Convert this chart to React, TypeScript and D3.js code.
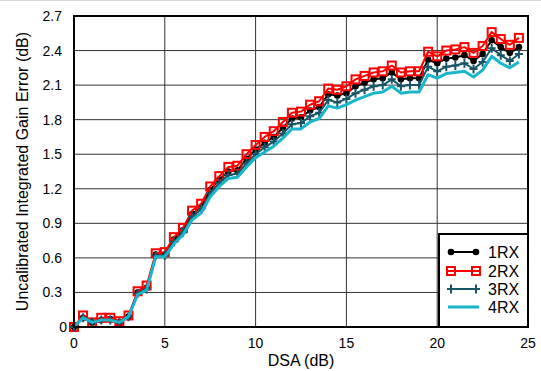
import React from "react";
import * as d3 from "d3";

const dsa: number[] = d3.range(0, 25, 0.5);

const rx1: number[] = [0.00, 0.08, 0.04, 0.06, 0.07, 0.04, 0.09, 0.30, 0.34, 0.63, 0.63, 0.76, 0.84, 0.98, 1.04, 1.19, 1.28, 1.35, 1.36, 1.46, 1.54, 1.60, 1.65, 1.73, 1.81, 1.82, 1.88, 1.91, 2.02, 2.01, 2.03, 2.09, 2.12, 2.15, 2.16, 2.21, 2.15, 2.16, 2.16, 2.32, 2.29, 2.33, 2.34, 2.36, 2.31, 2.37, 2.49, 2.43, 2.38, 2.43];
const rx2: number[] = [0.00, 0.10, 0.04, 0.08, 0.08, 0.05, 0.10, 0.31, 0.36, 0.64, 0.65, 0.78, 0.86, 1.01, 1.07, 1.22, 1.31, 1.39, 1.40, 1.50, 1.58, 1.65, 1.70, 1.78, 1.86, 1.87, 1.93, 1.96, 2.07, 2.06, 2.09, 2.15, 2.18, 2.21, 2.22, 2.27, 2.21, 2.22, 2.22, 2.39, 2.35, 2.40, 2.41, 2.43, 2.38, 2.44, 2.56, 2.50, 2.45, 2.51];
const rx3: number[] = [0.00, 0.08, 0.04, 0.06, 0.06, 0.04, 0.09, 0.29, 0.33, 0.62, 0.62, 0.74, 0.82, 0.96, 1.02, 1.16, 1.25, 1.32, 1.33, 1.42, 1.50, 1.56, 1.61, 1.68, 1.76, 1.77, 1.83, 1.86, 1.97, 1.95, 1.98, 2.03, 2.06, 2.09, 2.10, 2.15, 2.09, 2.10, 2.10, 2.26, 2.22, 2.26, 2.27, 2.29, 2.24, 2.30, 2.42, 2.36, 2.31, 2.37];
const rx4: number[] = [0.00, 0.08, 0.04, 0.06, 0.06, 0.04, 0.09, 0.28, 0.32, 0.61, 0.61, 0.72, 0.80, 0.93, 0.99, 1.13, 1.22, 1.29, 1.30, 1.39, 1.47, 1.52, 1.57, 1.64, 1.72, 1.72, 1.78, 1.81, 1.92, 1.90, 1.93, 1.97, 2.00, 2.03, 2.04, 2.09, 2.03, 2.04, 2.04, 2.19, 2.16, 2.20, 2.21, 2.22, 2.17, 2.23, 2.35, 2.29, 2.25, 2.30];

const seriesNames: string[] = ["1RX", "2RX", "3RX", "4RX"];
const xTicks: number[] = [0, 5, 10, 15, 20, 25];
const yTicks: number[] = [0, 0.3, 0.6, 0.9, 1.2, 1.5, 1.8, 2.1, 2.4, 2.7];

const FONT = "'Liberation Sans', Arial, Helvetica, sans-serif";

const colors = ["#000000", "#ff0000", "#1a5566", "#19b5cb"];

function Marker({ kind, x, y }: { kind: number; x: number; y: number }) {
  if (kind === 0) {
    return <circle cx={x} cy={y} r={3.3} fill="#000" />;
  }
  if (kind === 1) {
    return <rect x={x - 4} y={y - 4} width={8} height={8} fill="none" stroke="#ff0000" strokeWidth={2} />;
  }
  if (kind === 2) {
    return <path d={`M${x},${y - 4.5}V${y + 4.5}M${x - 4},${y}H${x + 4}`} stroke={colors[2]} strokeWidth={2} />;
  }
  return null;
}

export default function App() {
  const W = 541, H = 371;
  const left = 74, right = 528, top = 16, bottom = 327;
  const x = d3.scaleLinear().domain([0, 25]).range([left, right]);
  const y = d3.scaleLinear().domain([0, 2.7]).range([bottom, top]);
  const all = [rx1, rx2, rx3, rx4];
  const line = d3.line<number>().x((_, i) => x(dsa[i])).y((v) => y(v));
  const widths = [2, 2, 2, 3];

  const legX = 439, legY = 234;
  const legRows = [252, 271, 289, 307];

  return (
    <svg width={W} height={H} style={{ position: "absolute", left: 0, top: 0, background: "#fff" }} fontFamily={FONT}>
      <rect x={0} y={0} width={W} height={H} fill="#fff" />
      <line x1={0} x2={W} y1={0.5} y2={0.5} stroke="#d8d8d8" />
      {xTicks.map((t) => (
        <line key={"gx" + t} x1={x(t)} x2={x(t)} y1={top} y2={bottom} stroke="#333" strokeWidth={1} />
      ))}
      {yTicks.map((t) => (
        <line key={"gy" + t} x1={left} x2={right} y1={y(t)} y2={y(t)} stroke="#333" strokeWidth={1} />
      ))}
      {all.map((s, k) => (
        <g key={"s" + k}>
          <path d={line(s) || ""} fill="none" stroke={colors[k]} strokeWidth={widths[k]} strokeLinejoin="round" />
          {s.map((v, i) => (
            <Marker key={i} kind={k} x={x(dsa[i])} y={y(v)} />
          ))}
        </g>
      ))}
      <rect x={left} y={top} width={right - left} height={bottom - top} fill="none" stroke="#000" strokeWidth={2} />
      {xTicks.map((t) => (
        <text key={"tx" + t} x={x(t)} y={348} fontSize={14} textAnchor="middle" fill="#000">{t}</text>
      ))}
      {yTicks.map((t) => (
        <text key={"ty" + t} x={t === 0 ? 67 : 62} y={y(t) + 5} fontSize={14} textAnchor="end" fill="#000">{t === 0 ? "0" : d3.format(".1f")(t)}</text>
      ))}
      <text x={x(12.5)} y={366} fontSize={16} textAnchor="middle" fill="#000">DSA (dB)</text>
      <text transform={`translate(28,${(top + bottom) / 2}) rotate(-90)`} fontSize={16} textAnchor="middle" fill="#000">
        Uncalibrated Integrated Gain Error (dB)
      </text>
      <rect x={legX} y={legY} width={right - legX} height={bottom - legY} fill="#fff" stroke="#000" strokeWidth={2} />
      {seriesNames.map((n, k) => (
        <g key={"l" + k}>
          <line x1={448} x2={479} y1={legRows[k]} y2={legRows[k]} stroke={colors[k]} strokeWidth={widths[k]} />
          <Marker kind={k} x={451} y={legRows[k]} />
          <Marker kind={k} x={476} y={legRows[k]} />
          <text x={488} y={legRows[k] + 6} fontSize={16} fill="#000">{n}</text>
        </g>
      ))}
    </svg>
  );
}
